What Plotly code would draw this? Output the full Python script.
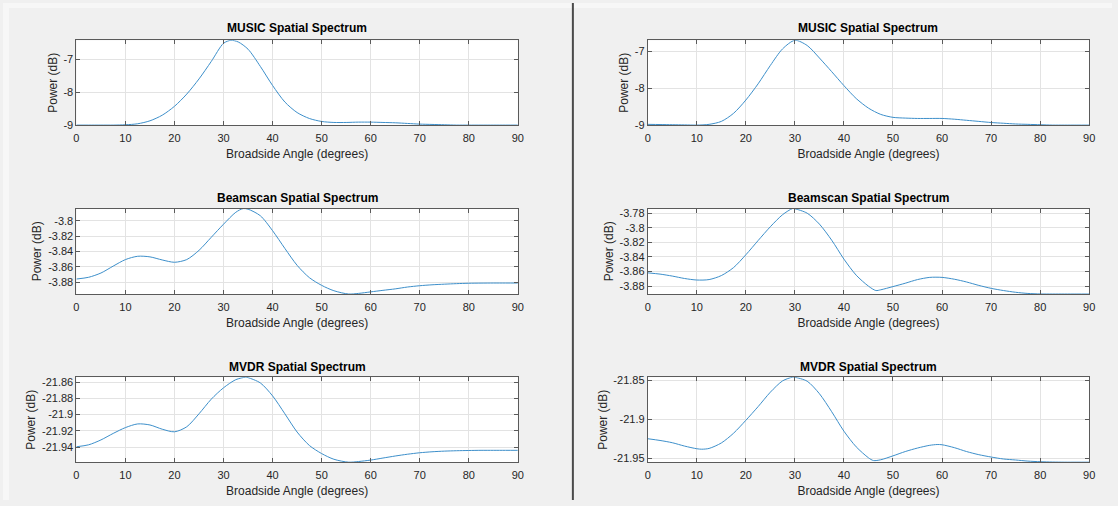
import plotly.graph_objects as go

# ---------------- data (angle in degrees, power in dB) ----------------
MUSIC_L_ANG = [0, 2.5, 5, 7.5, 10, 12.5, 15, 17.5, 20, 22.5, 25, 27.5, 30, 31.5, 33, 35, 37.5,
               40, 42.5, 45, 47.5, 50, 52.5, 55, 57.5, 60, 62.5, 65, 67.5, 70, 72.5, 75,
               77.5, 80, 82.5, 85, 87.5, 90]
MUSIC_L_DB = [-9.00, -9.00, -9.00, -9.00, -8.99, -8.96, -8.87, -8.70, -8.43, -8.06, -7.60,
              -7.07, -6.52, -6.43, -6.48, -6.70, -7.22, -7.80, -8.30, -8.62, -8.80, -8.89,
              -8.92, -8.92, -8.91, -8.91, -8.92, -8.93, -8.95, -8.97, -8.98, -8.99, -9.00,
              -9.00, -9.00, -9.00, -9.00, -9.00]

MUSIC_R_ANG = [0, 2.5, 5, 7.5, 10, 12.5, 15, 17.5, 20, 22.5, 25, 27.5, 30, 32.5, 35, 37.5,
               40, 42.5, 45, 47.5, 50, 52.5, 55, 57.5, 60, 62.5, 65, 67.5, 70, 72.5, 75,
               77.5, 80, 82.5, 85, 87.5, 90]
MUSIC_R_DB = [-8.98, -8.985, -8.99, -8.995, -9.00, -8.98, -8.90, -8.68, -8.32, -7.88, -7.38,
              -6.93, -6.70, -6.84, -7.18, -7.55, -7.93, -8.28, -8.54, -8.71, -8.79, -8.81,
              -8.82, -8.82, -8.82, -8.84, -8.87, -8.90, -8.93, -8.95, -8.97, -8.98, -8.99,
              -9.00, -9.00, -9.00, -9.00]

BEAM_L_ANG = [0, 2.5, 5, 7.5, 10, 12.5, 15, 17.5, 20, 22.5, 25, 27.5, 30, 32.5, 34, 35, 37.5,
              40, 42.5, 45, 47.5, 50, 52.5, 55.5, 57.5, 60, 62.5, 65, 67.5, 70, 72.5, 75,
              77.5, 80, 82.5, 85, 87.5, 90]
BEAM_L_DB = [-3.8758, -3.8735, -3.8680, -3.8590, -3.8505, -3.8462, -3.8470, -3.8510, -3.8540,
             -3.8505, -3.8385, -3.8215, -3.8045, -3.7890, -3.7842, -3.7850, -3.7935, -3.8130,
             -3.8360, -3.8580, -3.8740, -3.8840, -3.8910, -3.8953, -3.8945, -3.8925, -3.8905,
             -3.8886, -3.8862, -3.8845, -3.8833, -3.8825, -3.8818, -3.8813, -3.8811, -3.8810,
             -3.8810, -3.8810]

BEAM_R_ANG = [0, 2.5, 5, 7.5, 10, 12.5, 15, 17.5, 20, 22.5, 25, 27.5, 29.5, 30, 32.5, 35,
              37.5, 40, 42.5, 45, 46.5, 47.5, 50, 52.5, 55, 57.5, 60, 62.5, 65, 67.5, 70,
              72.5, 75, 77.5, 80, 82.5, 85, 87.5, 90]
BEAM_R_DB = [-3.8618, -3.8635, -3.8662, -3.8695, -3.8716, -3.8710, -3.8655, -3.8545, -3.8370,
             -3.8175, -3.7985, -3.7820, -3.7737, -3.7740, -3.7800, -3.7950, -3.8170, -3.8430,
             -3.8650, -3.8800, -3.8860, -3.8850, -3.8806, -3.8760, -3.8710, -3.8680, -3.8680,
             -3.8705, -3.8743, -3.8790, -3.8830, -3.8860, -3.8884, -3.8900, -3.8907, -3.8908,
             -3.8908, -3.8908, -3.8908]

MVDR_L_ANG = [0, 2.5, 5, 7.5, 10, 12.5, 15, 17.5, 20, 22.5, 25, 27.5, 30, 32.5, 34.5, 35,
              37.5, 40, 42.5, 45, 47.5, 50, 52.5, 55.5, 57.5, 60, 62.5, 65, 67.5, 70, 72.5,
              75, 77.5, 80, 82.5, 85, 87.5, 90]
MVDR_L_DB = [-21.9396, -21.9372, -21.9312, -21.9232, -21.9160, -21.9115, -21.9128, -21.9180,
             -21.9212, -21.9150, -21.8990, -21.8810, -21.8670, -21.8570, -21.8540, -21.8545,
             -21.8610, -21.8770, -21.8990, -21.9215, -21.9380, -21.9480, -21.9550, -21.9586,
             -21.9578, -21.9560, -21.9535, -21.9510, -21.9488, -21.9470, -21.9458, -21.9450,
             -21.9445, -21.9442, -21.9440, -21.9440, -21.9440, -21.9440]

MVDR_R_ANG = [0, 2.5, 5, 7.5, 10, 11, 12.5, 15, 17.5, 20, 22.5, 25, 27.5, 29.5, 30, 32.5, 35,
              37.5, 40, 42.5, 45, 46, 47.5, 50, 52.5, 55, 57.5, 59, 60, 62.5, 65, 67.5, 70,
              72.5, 75, 77.5, 80, 82.5, 85, 87.5, 90]
MVDR_R_DB = [-21.9246, -21.9268, -21.9297, -21.9340, -21.9374, -21.9380, -21.9370, -21.9300,
             -21.9175, -21.9010, -21.8835, -21.8650, -21.8505, -21.8459, -21.8460, -21.8510,
             -21.8670, -21.8900, -21.9150, -21.9350, -21.9490, -21.9525, -21.9515, -21.9465,
             -21.9410, -21.9365, -21.9330, -21.9320, -21.9323, -21.9360, -21.9410, -21.9450,
             -21.9480, -21.9505, -21.9518, -21.9532, -21.9540, -21.9544, -21.9546, -21.9546,
             -21.9546]

X_TICKS = [0, 10, 20, 30, 40, 50, 60, 70, 80, 90]
X_TICK_TEXT = ["0", "10", "20", "30", "40", "50", "60", "70", "80", "90"]

MUSIC_L_TICKS = [-9, -8, -7]
MUSIC_L_TEXT = ["-9", "-8", "-7"]
MUSIC_R_TICKS = [-9, -8, -7]
MUSIC_R_TEXT = ["-9", "-8", "-7"]
BEAM_L_TICKS = [-3.88, -3.86, -3.84, -3.82, -3.80]
BEAM_L_TEXT = ["-3.88", "-3.86", "-3.84", "-3.82", "-3.8"]
BEAM_R_TICKS = [-3.88, -3.86, -3.84, -3.82, -3.80, -3.78]
BEAM_R_TEXT = ["-3.88", "-3.86", "-3.84", "-3.82", "-3.8", "-3.78"]
MVDR_L_TICKS = [-21.94, -21.92, -21.90, -21.88, -21.86]
MVDR_L_TEXT = ["-21.94", "-21.92", "-21.9", "-21.88", "-21.86"]
MVDR_R_TICKS = [-21.95, -21.90, -21.85]
MVDR_R_TEXT = ["-21.95", "-21.9", "-21.85"]

TITLES = ["MUSIC Spatial Spectrum", "Beamscan Spatial Spectrum", "MVDR Spatial Spectrum"]
X_LABEL = "Broadside Angle (degrees)"
Y_LABEL = "Power (dB)"

# ---------------- layout geometry ----------------
W, H = 1118, 506
COLS = [(74, 519), (650, 1095)]          # plot-area left/right in px
ROWS = [(38, 124.3), (209.3, 296.3), (381, 467.5)]  # plot-area top/bottom in px
TITLE_SHIFT = [12, 10.5, 10.5]           # title centre above the plot area, px

LINE_COLOR = "#3d8fca"
TEXT_COLOR = "#262626"
FONT = "Liberation Sans, Arial, Helvetica, sans-serif"

panels = [
    # (row, col, x, y, y-range, tickvals, ticktext)
    (0, 0, MUSIC_L_ANG, MUSIC_L_DB, [-9.0, -6.43], MUSIC_L_TICKS, MUSIC_L_TEXT),
    (1, 0, BEAM_L_ANG, BEAM_L_DB, [-3.8953, -3.7842], BEAM_L_TICKS, BEAM_L_TEXT),
    (2, 0, MVDR_L_ANG, MVDR_L_DB, [-21.9586, -21.854], MVDR_L_TICKS, MVDR_L_TEXT),
    (0, 1, MUSIC_R_ANG, MUSIC_R_DB, [-9.0, -6.70], MUSIC_R_TICKS, MUSIC_R_TEXT),
    (1, 1, BEAM_R_ANG, BEAM_R_DB, [-3.8908, -3.7737], BEAM_R_TICKS, BEAM_R_TEXT),
    (2, 1, MVDR_R_ANG, MVDR_R_DB, [-21.9546, -21.8459], MVDR_R_TICKS, MVDR_R_TEXT),
]

fig = go.Figure()
layout = {}
annotations = []

for i, (r, c, xs, ys, yr, tv, tt) in enumerate(panels):
    n = i + 1
    xa = "xaxis" if n == 1 else f"xaxis{n}"
    ya = "yaxis" if n == 1 else f"yaxis{n}"
    xref = "x" if n == 1 else f"x{n}"
    yref = "y" if n == 1 else f"y{n}"

    x0, x1 = COLS[c]
    top, bot = ROWS[r]
    xdom = [x0 / W, x1 / W]
    ydom = [1 - bot / H, 1 - top / H]

    fig.add_trace(go.Scatter(
        x=xs, y=ys, mode="lines", xaxis=xref, yaxis=yref,
        line=dict(color=LINE_COLOR, width=1, shape="spline", smoothing=0.8),
        showlegend=False, hoverinfo="skip",
    ))

    common = dict(
        showline=True, linecolor="#5a5a5a", linewidth=1, mirror="ticks",
        ticks="inside", ticklen=4, tickcolor="#5a5a5a", tickwidth=1,
        showgrid=True, gridcolor="#e3e3e3", gridwidth=1, zeroline=False,
        tickfont=dict(family=FONT, size=11, color=TEXT_COLOR),
        fixedrange=True,
    )
    layout[xa] = dict(
        common, domain=xdom, range=[0, 90], anchor=yref,
        tickvals=X_TICKS, ticktext=X_TICK_TEXT, ticklabelstandoff=3,
        title=dict(text=X_LABEL, font=dict(family=FONT, size=12, color=TEXT_COLOR), standoff=6),
    )
    layout[ya] = dict(
        common, domain=ydom, range=yr, anchor=xref,
        tickvals=tv, ticktext=tt,
        title=dict(text=Y_LABEL, font=dict(family=FONT, size=12, color=TEXT_COLOR), standoff=3),
    )

    annotations.append(dict(
        text=f"<b>{TITLES[r]}</b>", xref="paper", yref="paper",
        x=(xdom[0] + xdom[1]) / 2, y=ydom[1], xanchor="center", yanchor="middle",
        yshift=TITLE_SHIFT[r], showarrow=False,
        font=dict(family=FONT, size=12, color="#000000"),
    ))

fig.update_layout(
    **layout,
    annotations=annotations,
    width=W, height=H,
    margin=dict(l=0, r=0, t=0, b=0),
    paper_bgcolor="#f0f0f0", plot_bgcolor="#ffffff",
    showlegend=False,
    shapes=[
        # lighter window edges along the top and left
        dict(type="rect", xref="paper", yref="paper", x0=0, x1=1, y0=1 - 5 / H, y1=1,
             fillcolor="#f7f7f7", line=dict(width=0), layer="below"),
        dict(type="rect", xref="paper", yref="paper", x0=0, x1=6 / W, y0=0, y1=1,
             fillcolor="#f7f7f7", line=dict(width=0), layer="below"),
        # divider between the two figure panels
        dict(type="line", xref="paper", yref="paper",
             x0=574.5 / W, x1=574.5 / W, y0=0, y1=1,
             line=dict(color="#4a4a4a", width=2)),
    ],
)

fig.write_html("out.html", config={"displayModeBar": False})
